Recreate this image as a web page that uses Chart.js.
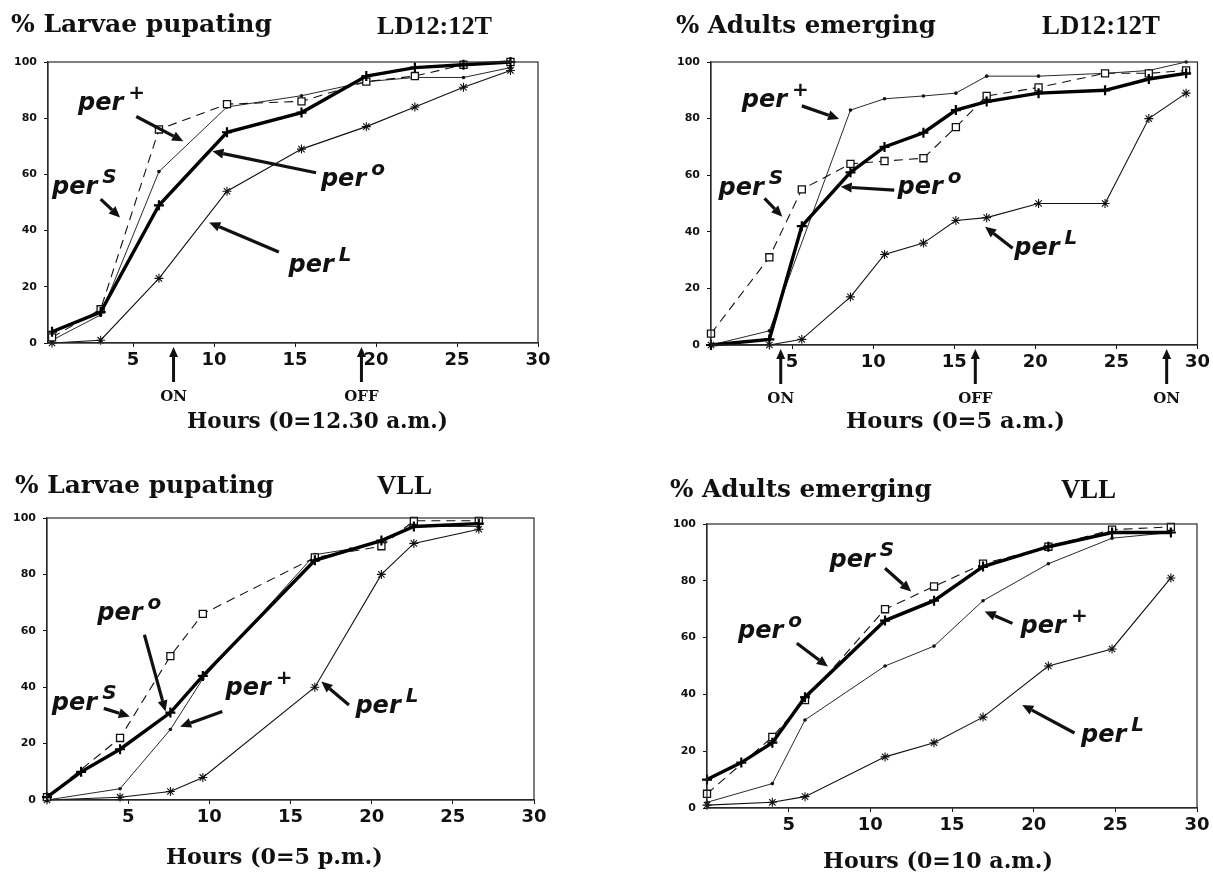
<!DOCTYPE html>
<html>
<head>
<meta charset="utf-8">
<script src="https://cdn.jsdelivr.net/npm/chart.js@4"></script>
<style>
  body{margin:0;background:#fff;width:1213px;height:878px;position:relative;overflow:hidden}
  canvas{position:absolute}
</style>
</head>
<body>
<canvas id="c1" width="600" height="440" style="left:0;top:0"></canvas>
<canvas id="c2" width="613" height="440" style="left:600px;top:0"></canvas>
<canvas id="c3" width="600" height="438" style="left:0;top:440px"></canvas>
<canvas id="c4" width="613" height="438" style="left:600px;top:440px"></canvas>
<script>
// ===== data =====
const xTicks = [5, 10, 15, 20, 25, 30];
const yTicks = [0, 20, 40, 60, 80, 100];

// LD12:12T, % larvae pupating, hours from 0 = 12.30 a.m.
const pupLdHours   = [0, 3.0, 6.6, 10.8, 15.4, 19.4, 22.4, 25.4, 28.3];
const pupLdPerPlus = [1, 10, 61, 84, 88, 93, 94.5, 94.5, 98];
const pupLdPerS    = [2, 12, 76, 85, 86, 93, 95, 99, 100];
const pupLdPer0    = [4, 11, 49, 75, 82, 95, 98, 99, 100];
const pupLdPerL    = [0, 1, 23, 54, 69, 77, 84, 91, 97];

// LD12:12T, % adults emerging, hours from 0 = 5 a.m.
const emLdHours   = [0, 3.6, 5.6, 8.6, 10.7, 13.1, 15.1, 17.0, 20.2, 24.3, 27.0, 29.3];
const emLdPerPlus = [0, 5, null, 83, 87, 88, 89, 95, 95, 96, 97, 100];
const emLdPerS    = [4, 31, 55, 64, 65, 66, 77, 88, 91, 96, 96, 97];
const emLdPer0    = [0, 2, 42, 61, 70, 75, 83, 86, 89, 90, 94, 96];
const emLdPerL    = [0, 0, 2, 17, 32, 36, 44, 45, 50, 50, 80, 89];

// VLL, % larvae pupating, hours from 0 = 5 p.m.
const pupVllHours   = [0, 2.1, 4.5, 7.6, 9.6, 16.5, 18.7, 20.6, 22.6, 26.6];
const pupVllPerPlus = [0, null, 4, 25, 43, 87, 89, 92, 97, 97];
const pupVllPerS    = [1, null, 22, 51, 66, 86, null, 90, 99, 99];
const pupVllPer0    = [1, 10, 18, 31, 44, 85, null, 92, 97, 98];
const pupVllPerL    = [0, null, 1, 3, 8, 40, null, 80, 91, 96];

// VLL, % adults emerging, hours from 0 = 10 a.m.
const emVllHours   = [0, 2.1, 4.0, 6.0, 10.9, 13.9, 16.9, 20.9, 24.8, 28.4];
const emVllPerPlus = [2, null, 8.6, 31, 50, 57, 73, 86, 95, 97];
const emVllPerS    = [5, null, 25, 38, 70, 78, 86, 92, 98, 99];
const emVllPer0    = [10, 16, 23, 39, 66, 73, 85, 92, 97, 97];
const emVllPerL    = [1, null, 2, 4, 18, 23, 32, 50, 56, 81];

// ===== styles =====
const INK = '#111';
const STYLE = {
  o:    {borderColor:'#000', borderWidth:3.4, pointStyle:'cross', pointRadius:5, pointBorderWidth:2.2, pointBorderColor:'#000'},
  s:    {borderColor:INK, borderWidth:1.1, borderDash:[9,6], pointStyle:'rect', pointRadius:5, pointBackgroundColor:'#fff', pointBorderColor:INK, pointBorderWidth:1.3},
  plus: {borderColor:INK, borderWidth:0.9, pointStyle:'circle', pointRadius:1.8, pointBackgroundColor:INK, pointBorderWidth:0},
  L:    {borderColor:INK, borderWidth:1.1, pointStyle:'star', pointRadius:4.5, pointBorderWidth:1.1, pointBorderColor:INK}
};
const SERIF = '"DejaVu Serif"';
const SANS = '"DejaVu Sans"';

function series(hours, values, style){
  const pts = [];
  hours.forEach((h, i) => { if(values[i] != null) pts.push({x:h, y:values[i]}); });
  return Object.assign({data:pts, tension:0, fill:false, clip:false, pointHoverRadius:0}, style);
}

function fitSize(ctx, text, weight, family, width){
  ctx.font = `${weight} 40px ${family}`;
  return 40 * width / ctx.measureText(text).width;
}

function arrow(ctx, x1, y1, x2, y2, w, head){
  const a = Math.atan2(y2 - y1, x2 - x1);
  const bx = x2 - head * Math.cos(a), by = y2 - head * Math.sin(a);
  const hw = head * 0.45;
  ctx.lineWidth = w; ctx.lineCap = 'butt';
  ctx.beginPath(); ctx.moveTo(x1, y1); ctx.lineTo(bx, by); ctx.stroke();
  ctx.beginPath(); ctx.moveTo(x2, y2);
  ctx.lineTo(bx + hw * Math.sin(a), by - hw * Math.cos(a));
  ctx.lineTo(bx - hw * Math.sin(a), by + hw * Math.cos(a));
  ctx.closePath(); ctx.fill();
}

// ===== titles, arrows and "per" labels =====
const panelText = {
  id:'panelText',
  afterDraw(chart, args, o){
    const ctx = chart.ctx, xs = chart.scales.x, ys = chart.scales.y, a = chart.chartArea;
    ctx.save();
    ctx.strokeStyle = '#2a2a2a'; ctx.lineWidth = 1.2;
    ctx.strokeRect(a.left, a.top, a.right - a.left, a.bottom - a.top);
    ctx.fillStyle = INK; ctx.strokeStyle = INK;
    ctx.textBaseline = 'alphabetic';

    o.titles.forEach(t => {
      const size = fitSize(ctx, t.text, 'bold', t.family, t.width);
      ctx.font = `bold ${size}px ${t.family}`;
      ctx.textAlign = 'left';
      ctx.fillText(t.text, t.left, t.base);
    });

    o.labels.forEach(l => {
      const px = xs.getPixelForValue(l.x), py = ys.getPixelForValue(l.y);
      ctx.font = `italic bold 24px ${SANS}`;
      ctx.textAlign = 'left';
      ctx.fillText('per', px, py);
      const w = ctx.measureText('per').width;
      ctx.font = `italic bold 20px ${SANS}`;
      ctx.fillText(l.sup, px + w + 5, py - 11);
      arrow(ctx, xs.getPixelForValue(l.from[0]), ys.getPixelForValue(l.from[1]),
                 xs.getPixelForValue(l.to[0]), ys.getPixelForValue(l.to[1]), 3.2, 11);
    });

    (o.marks || []).forEach(m => {
      const px = xs.getPixelForValue(m.x);
      arrow(ctx, px, a.bottom + 39, px, a.bottom + 4, 3, 10);
      ctx.font = `bold 15px ${SERIF}`;
      ctx.textAlign = 'center';
      ctx.fillText(m.text, px, a.bottom + 58);
    });
    ctx.restore();
  }
};

function makeChart(id, p){
  const tickGrid = {display:true, drawOnChartArea:false, drawTicks:true, tickLength:4, color:INK, lineWidth:1};
  new Chart(document.getElementById(id), {
    type:'line',
    data:{datasets:[
      series(p.hours, p.per0, STYLE.o),
      series(p.hours, p.perS, STYLE.s),
      series(p.hours, p.perPlus, STYLE.plus),
      series(p.hours, p.perL, STYLE.L)
    ]},
    options:{
      responsive:false, animation:false, devicePixelRatio:1, events:[],
      layout:{padding:p.pad},
      plugins:{legend:{display:false}, tooltip:{enabled:false}, panelText:p.text},
      scales:{
        x:{type:'linear', min:p.xMin, max:30,
           afterBuildTicks:s => { s.ticks = xTicks.map(v => ({value:v})); },
           afterFit:s => { s.height = 30; },
           grid:tickGrid, border:{display:true, color:'#2a2a2a', width:1.2},
           ticks:{autoSkip:false, maxRotation:0, padding:3, color:INK, font:{family:SANS, weight:'bold', size:18}}},
        y:{min:0, max:100,
           afterBuildTicks:s => { s.ticks = yTicks.map(v => ({value:v})); },
           afterFit:s => { s.width = 40; },
           grid:tickGrid, border:{display:true, color:'#2a2a2a', width:1.2},
           ticks:{padding:7, color:INK, font:{family:SANS, weight:'bold', size:11}}}
      }
    },
    plugins:[panelText]
  });
}

makeChart('c1', {
  hours:pupLdHours, perPlus:pupLdPerPlus, perS:pupLdPerS, per0:pupLdPer0, perL:pupLdPerL,
  xMin:-0.25, pad:{left:8, right:62, top:62, bottom:67},
  text:{
    titles:[
      {text:'% Larvae pupating', family:SERIF, left:11, base:32, width:261},
      {text:'LD12:12T', family:'"Liberation Serif"', left:377, base:34, width:115},
      {text:'Hours (0=12.30 a.m.)', family:SERIF, left:187, base:428, width:261}
    ],
    labels:[
      {x:1.6, y:82.9, sup:'+', from:[5.2, 80.6], to:[8.1, 71.8]},
      {x:0.0, y:52.9, sup:'S', from:[3.0, 51.2], to:[4.2, 44.7]},
      {x:16.6, y:55.9, sup:'o', from:[16.3, 60.6], to:[9.9, 68.2]},
      {x:14.6, y:25.3, sup:'L', from:[14.0, 32.4], to:[9.7, 42.9]}
    ],
    marks:[{x:7.5, text:'ON'}, {x:19.1, text:'OFF'}]
  }
});

makeChart('c2', {
  hours:emLdHours, perPlus:emLdPerPlus, perS:emLdPerS, per0:emLdPer0, perL:emLdPerL,
  xMin:0, pad:{left:71, right:14, top:62, bottom:65},
  text:{
    titles:[
      {text:'% Adults emerging', family:SERIF, left:76, base:33, width:260},
      {text:'LD12:12T', family:'"Liberation Serif"', left:442, base:34, width:118},
      {text:'Hours (0=5 a.m.)', family:SERIF, left:246, base:428, width:219}
    ],
    labels:[
      {x:1.9, y:84.0, sup:'+', from:[5.6, 84.5], to:[7.9, 79.9]},
      {x:0.46, y:52.9, sup:'S', from:[3.3, 51.8], to:[4.4, 45.3]},
      {x:11.5, y:53.5, sup:'o', from:[11.3, 54.7], to:[8.0, 55.9]},
      {x:18.7, y:31.9, sup:'L', from:[18.6, 34.2], to:[16.9, 41.8]}
    ],
    marks:[{x:4.3, text:'ON'}, {x:16.3, text:'OFF'}, {x:28.1, text:'ON'}]
  }
});

makeChart('c3', {
  hours:pupVllHours, perPlus:pupVllPerPlus, perS:pupVllPerS, per0:pupVllPer0, perL:pupVllPerL,
  xMin:0, pad:{left:7, right:66, top:78, bottom:48},
  text:{
    titles:[
      {text:'% Larvae pupating', family:SERIF, left:15, base:53, width:259},
      {text:'VLL', family:'"Liberation Serif"', left:377, base:54, width:55},
      {text:'Hours (0=5 p.m.)', family:SERIF, left:166, base:424, width:217}
    ],
    labels:[
      {x:0.3, y:32, sup:'S', from:[3.5, 32.5], to:[5.1, 29.6]},
      {x:3.1, y:63.9, sup:'o', from:[6.0, 58.6], to:[7.3, 31.4]},
      {x:11.0, y:37.3, sup:'+', from:[10.8, 31.4], to:[8.2, 26]},
      {x:19.0, y:30.8, sup:'L', from:[18.6, 33.7], to:[16.9, 42]}
    ]
  }
});

makeChart('c4', {
  hours:emVllHours, perPlus:emVllPerPlus, perS:emVllPerS, per0:emVllPer0, perL:emVllPerL,
  xMin:0, pad:{left:67, right:16, top:84, bottom:40},
  text:{
    titles:[
      {text:'% Adults emerging', family:SERIF, left:70, base:57, width:262},
      {text:'VLL', family:'"Liberation Serif"', left:461, base:58, width:55},
      {text:'Hours (0=10 a.m.)', family:SERIF, left:223, base:428, width:230}
    ],
    labels:[
      {x:7.5, y:85, sup:'S', from:[10.9, 84.4], to:[12.5, 76.2]},
      {x:1.9, y:59.8, sup:'o', from:[5.5, 58], to:[7.4, 49.8]},
      {x:19.2, y:61.5, sup:'+', from:[18.7, 65], to:[17.0, 69.2]},
      {x:22.9, y:23.4, sup:'L', from:[22.5, 26.4], to:[19.3, 36.3]}
    ]
  }
});
</script>
</body>
</html>
